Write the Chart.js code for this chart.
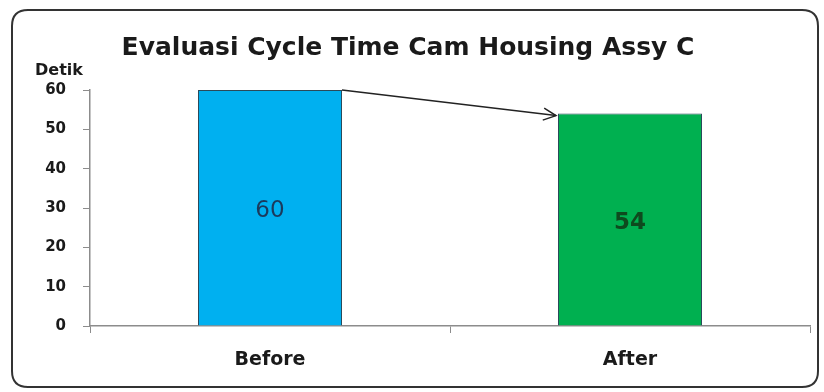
<!DOCTYPE html>
<html>
<head>
<meta charset="utf-8">
<script src="https://cdn.jsdelivr.net/npm/chart.js@4/dist/chart.umd.min.js"></script>
<style>
  html, body { margin: 0; padding: 0; background: #ffffff; }
  #wrap { width: 824px; height: 392px; position: relative; }
</style>
</head>
<body>
<div id="wrap"><canvas id="c" width="824" height="392"></canvas></div>
<script>
// Cycle time evaluation data
const categories = ['Before', 'After'];
const cycleTimes = [60, 54];
const barColors = ['#00B0F0', '#00B050'];
const labelColors = ['#1B3A5C', '#0E4A1E'];
const yTicks = [0, 10, 20, 30, 40, 50, 60];
const chartTitle = 'Evaluasi Cycle Time Cam Housing Assy C';
const unitLabel = 'Detik';

const FONT = '"DejaVu Sans", "Open Sans", sans-serif';

// Rounded frame, title, unit label, value labels and the trend arrow
const decorations = {
  id: 'decorations',
  beforeDraw(chart) {
    const ctx = chart.ctx;
    ctx.save();
    ctx.fillStyle = '#ffffff';
    ctx.fillRect(0, 0, chart.width, chart.height);
    const x0 = 12, y0 = 10, x1 = 818, y1 = 387, r = 16;
    ctx.beginPath();
    ctx.moveTo(x0 + r, y0);
    ctx.lineTo(x1 - r, y0);
    ctx.quadraticCurveTo(x1, y0, x1, y0 + r);
    ctx.lineTo(x1, y1 - r);
    ctx.quadraticCurveTo(x1, y1, x1 - r, y1);
    ctx.lineTo(x0 + r, y1);
    ctx.quadraticCurveTo(x0, y1, x0, y1 - r);
    ctx.lineTo(x0, y0 + r);
    ctx.quadraticCurveTo(x0, y0, x0 + r, y0);
    ctx.closePath();
    ctx.lineWidth = 2;
    ctx.strokeStyle = '#333333';
    ctx.stroke();

    ctx.fillStyle = '#1a1a1a';
    ctx.textAlign = 'center';
    ctx.textBaseline = 'middle';
    ctx.font = 'bold 25px ' + FONT;
    ctx.fillText(chartTitle, 408, 48);

    ctx.font = 'bold 16px ' + FONT;
    ctx.fillText(unitLabel, 59, 71);
    ctx.restore();
  },
  afterDatasetsDraw(chart) {
    const ctx = chart.ctx;
    const meta = chart.getDatasetMeta(0);
    const yScale = chart.scales.y;
    ctx.save();
    ctx.textAlign = 'center';
    ctx.textBaseline = 'middle';
    meta.data.forEach((bar, i) => {
      const midY = (bar.y + yScale.getPixelForValue(0)) / 2;
      ctx.font = (i === 0 ? '' : 'bold ') + '23px ' + FONT;
      ctx.fillStyle = labelColors[i];
      ctx.fillText(String(cycleTimes[i]), bar.x, midY + 3);
    });

    // trend arrow from top of first bar to top of second bar
    const a = meta.data[0], b = meta.data[1];
    const sx = a.x + a.width / 2, sy = a.y;
    const ex = b.x - b.width / 2 - 2, ey = b.y + 2;
    ctx.strokeStyle = '#222222';
    ctx.lineWidth = 1.5;
    ctx.beginPath();
    ctx.moveTo(sx, sy);
    ctx.lineTo(ex, ey);
    ctx.stroke();
    const ang = Math.atan2(ey - sy, ex - sx);
    const hl = 14, ha = 0.45;
    ctx.beginPath();
    ctx.moveTo(ex - hl * Math.cos(ang - ha), ey - hl * Math.sin(ang - ha));
    ctx.lineTo(ex, ey);
    ctx.lineTo(ex - hl * Math.cos(ang + ha), ey - hl * Math.sin(ang + ha));
    ctx.stroke();
    ctx.restore();
  }
};

new Chart(document.getElementById('c'), {
  type: 'bar',
  data: {
    labels: categories,
    datasets: [{
      data: cycleTimes,
      backgroundColor: barColors,
      borderColor: '#2b4a5a',
      borderWidth: 1,
      categoryPercentage: 0.8,
      barPercentage: 0.5
    }]
  },
  options: {
    responsive: false,
    animation: false,
    devicePixelRatio: 1,
    layout: { padding: { left: 20, right: 14, top: 90, bottom: 10 } },
    plugins: {
      legend: { display: false },
      title: { display: false },
      tooltip: { enabled: false }
    },
    scales: {
      x: {
        afterFit(scale) { scale.height = 56; },
        grid: {
          display: true,
          offset: true,
          drawOnChartArea: false,
          drawTicks: true,
          tickLength: 7,
          color: '#8c8c8c'
        },
        border: { display: true, color: '#8c8c8c', width: 1.5 },
        ticks: {
          color: '#1a1a1a',
          font: { family: FONT, size: 19, weight: 'bold' },
          padding: 16
        }
      },
      y: {
        min: 0,
        max: 60,
        afterFit(scale) { scale.width = 70; },
        afterBuildTicks(scale) { scale.ticks = yTicks.map(v => ({ value: v })); },
        grid: {
          display: true,
          drawOnChartArea: false,
          drawTicks: true,
          tickLength: 7,
          color: '#8c8c8c'
        },
        border: { display: true, color: '#8c8c8c', width: 1.5 },
        ticks: {
          color: '#1a1a1a',
          font: { family: FONT, size: 15, weight: 'bold' },
          padding: 17
        }
      }
    }
  },
  plugins: [decorations]
});
</script>
</body>
</html>
